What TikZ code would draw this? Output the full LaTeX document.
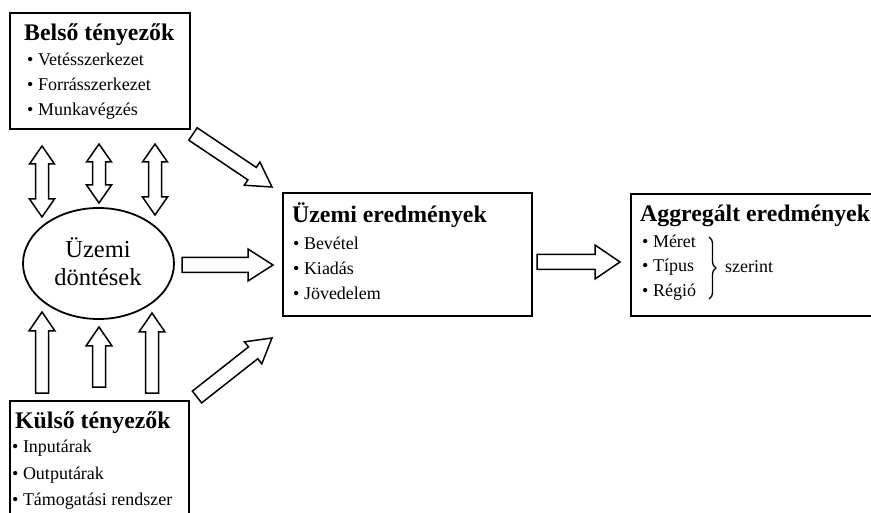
\documentclass[tikz,border=0pt]{standalone}
\usepackage{fontspec}
\setmainfont{Liberation Serif}
\usetikzlibrary{calc,shapes.geometric,decorations.pathreplacing}
\tikzset{
 box/.style={draw, line width=2pt, inner sep=0pt, anchor=north west},
 ttl/.style={anchor=base west, inner sep=0pt, font=\fontsize{23.8}{26}\selectfont\bfseries},
 itm/.style={anchor=base west, inner sep=0pt, font=\fontsize{18}{20}\selectfont},
 big/.style={anchor=base, inner sep=0pt, font=\fontsize{24.5}{28}\selectfont},
 blk/.style={draw, line width=1.5pt, fill=white, line join=miter},
}
\newcommand\sarrow[5]{%
 \coordinate (tmpC) at ($(#2)!#5!(#1)$);
 \draw[blk] ($(#1)!#3!90:(#2)$) -- ($(tmpC)!#3!90:(#2)$) -- ($(tmpC)!#4!90:(#2)$) -- (#2) -- ($(tmpC)!#4!-90:(#2)$) -- ($(tmpC)!#3!-90:(#2)$) -- ($(#1)!#3!-90:(#2)$) -- cycle;}
\newcommand\darrow[5]{%
 \coordinate (tmpC) at ($(#1)!#5!(#2)$);
 \coordinate (tmpD) at ($(#2)!#5!(#1)$);
 \draw[blk] (#1) -- ($(tmpC)!#4!90:(#2)$) -- ($(tmpC)!#3!90:(#2)$) -- ($(tmpD)!#3!90:(#2)$) -- ($(tmpD)!#4!90:(#2)$) -- (#2) -- ($(tmpD)!#4!-90:(#2)$) -- ($(tmpD)!#3!-90:(#2)$) -- ($(tmpC)!#3!-90:(#2)$) -- ($(tmpC)!#4!-90:(#2)$) -- cycle;}
\begin{document}
\begin{tikzpicture}[x=1pt,y=-1pt]
\useasboundingbox (0,0) rectangle (871,513);
\clip (0,0) rectangle (871,513);
% boxes
\node[box, minimum width=180, minimum height=116] (belso) at (9,12) {};
\node[box, minimum width=249, minimum height=123] (uzemi) at (282,192) {};
\node[box, minimum width=250, minimum height=122] (aggr) at (630,193) {};
\node[box, minimum width=179, minimum height=130] (kulso) at (9,400) {};
\node[draw, ellipse, line width=1.8pt, minimum width=151, minimum height=111, inner sep=0pt] (dont) at (98.5,263.5) {};
% texts
\node[ttl] (t1) at (24,41) {Belső tényezők};
\node[itm] (t1a) at (27,66) {\textbullet\ Vetésszerkezet};
\node[itm] (t1b) at (27,91) {\textbullet\ Forrásszerkezet};
\node[itm] (t1c) at (27,116) {\textbullet\ Munkavégzés};
\node[ttl] (t2) at (292,223) {Üzemi eredmények};
\node[itm] (t2a) at (293,250) {\textbullet\ Bevétel};
\node[itm] (t2b) at (293,275) {\textbullet\ Kiadás};
\node[itm] (t2c) at (293,300) {\textbullet\ Jövedelem};
\node[ttl] (t3) at (640,222) {Aggregált eredmények};
\node[itm] (t3a) at (642,248) {\textbullet\ Méret};
\node[itm] (t3b) at (642,272) {\textbullet\ Típus};
\node[itm] (t3c) at (642,297) {\textbullet\ Régió};
\node[itm] (t3d) at (725,273) {szerint};
\node[ttl] (t4) at (15,428) {Külső tényezők};
\node[itm] (t4a) at (12,452) {\textbullet\ Inputárak};
\node[itm] (t4b) at (12,479) {\textbullet\ Outputárak};
\node[itm] (t4c) at (12,505) {\textbullet\ Támogatási rendszer};
\node[big] (e1) at (98,258) {Üzemi};
\node[big] (e2) at (98,286) {döntések};
% brace
\coordinate (bt) at (709,237);
\coordinate (bb) at (709,299);
\draw[decorate, decoration={brace, amplitude=7pt}, line width=1.3pt] (bt) -- (bb);
% arrow end points
\coordinate (d1a) at (42,146); \coordinate (d1b) at (42,217);
\coordinate (d2a) at (99,144); \coordinate (d2b) at (99,203);
\coordinate (d3a) at (155,144); \coordinate (d3b) at (155,215);
\coordinate (u1a) at (42,393); \coordinate (u1b) at (42,312);
\coordinate (u2a) at (99,387); \coordinate (u2b) at (99,327);
\coordinate (u3a) at (152,393); \coordinate (u3b) at (152,313);
\coordinate (g1a) at (193,134); \coordinate (g1b) at (272,187);
\coordinate (g2a) at (197,397); \coordinate (g2b) at (272,338);
\coordinate (h1a) at (182,265); \coordinate (h1b) at (273,265);
\coordinate (h2a) at (537,262); \coordinate (h2b) at (620,262);
% arrows
\darrow{d1a}{d1b}{6.5pt}{12.5pt}{18pt}
\darrow{d2a}{d2b}{6.5pt}{12.5pt}{18pt}
\darrow{d3a}{d3b}{6.5pt}{12.5pt}{18pt}
\sarrow{u1a}{u1b}{6.5pt}{13pt}{19pt}
\sarrow{u2a}{u2b}{6.5pt}{13pt}{19pt}
\sarrow{u3a}{u3b}{6.5pt}{13pt}{19pt}
\sarrow{g1a}{g1b}{7.5pt}{14pt}{24pt}
\sarrow{g2a}{g2b}{7.5pt}{14pt}{24pt}
\sarrow{h1a}{h1b}{7.5pt}{16pt}{25pt}
\sarrow{h2a}{h2b}{7.5pt}{17pt}{25pt}
\end{tikzpicture}
\end{document}
